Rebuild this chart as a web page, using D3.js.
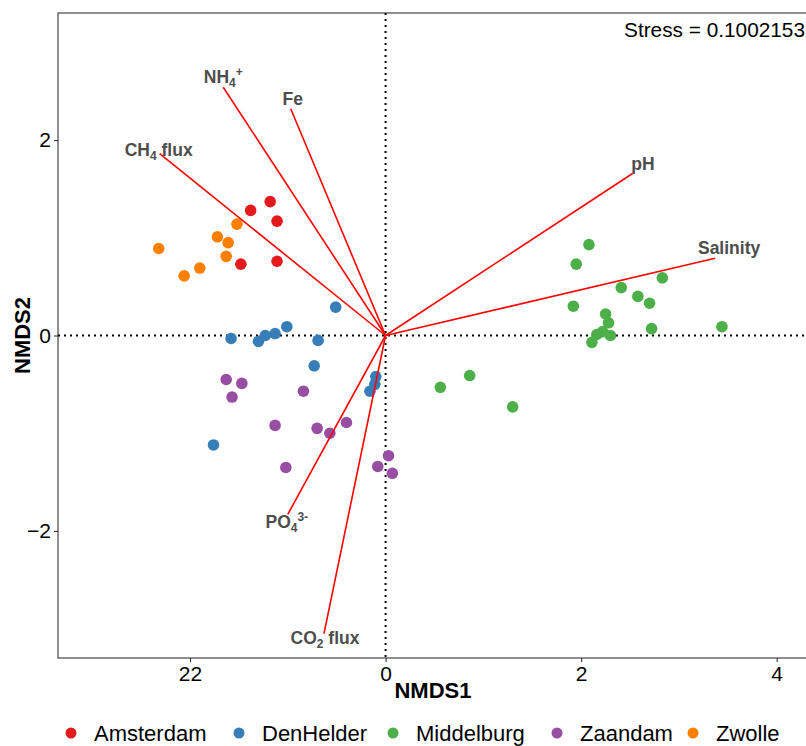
<!DOCTYPE html>
<html>
<head>
<meta charset="utf-8">
<script src="https://cdn.jsdelivr.net/npm/d3@7"></script>
<style>
  body { margin: 0; background: #fff; }
  text { font-family: "Liberation Sans", Arial, sans-serif; }
</style>
</head>
<body>
<svg id="chart" width="806" height="746"></svg>
<script>
// sites and their colours
const sites = ["Amsterdam", "DenHelder", "Middelburg", "Zaandam", "Zwolle"];
const siteColors = ["#E41A1C", "#377EB8", "#4DAF4A", "#984EA3", "#FF7F00"];

// NMDS scores per site
const amsterdamX = [-1.18, -1.38, -1.11, -1.48, -1.11];
const amsterdamY = [1.37, 1.28, 1.17, 0.73, 0.76];
const denhelderX = [-0.51, -1.01, -1.13, -1.23, -1.30, -1.58, -0.69, -0.73, -0.10, -0.11, -0.16, -1.76];
const denhelderY = [0.29, 0.09, 0.02, 0.00, -0.06, -0.03, -0.05, -0.31, -0.42, -0.50, -0.57, -1.12];
const middelburgX = [2.08, 1.95, 2.83, 2.41, 2.58, 2.70, 1.92, 2.25, 2.28, 2.72, 3.44, 2.22, 2.16, 2.30, 2.11, 0.86, 0.56, 1.30];
const middelburgY = [0.93, 0.73, 0.59, 0.49, 0.40, 0.33, 0.30, 0.22, 0.13, 0.07, 0.09, 0.04, 0.01, 0.00, -0.07, -0.41, -0.53, -0.73];
const zaandamX = [-1.63, -1.47, -1.57, -0.84, -1.13, -0.70, -0.57, -0.40, -1.02, 0.03, -0.08, 0.07];
const zaandamY = [-0.45, -0.49, -0.63, -0.57, -0.92, -0.95, -1.00, -0.89, -1.35, -1.23, -1.34, -1.41];
const zwolleX = [-1.52, -1.72, -1.61, -2.32, -1.63, -1.90, -2.06];
const zwolleY = [1.14, 1.01, 0.95, 0.89, 0.81, 0.69, 0.61];

// fitted environmental vectors
const vecNames = ["NH4+", "Fe", "CH4 flux", "pH", "Salinity", "PO43-", "CO2 flux"];
const vecX = [-1.66, -0.97, -2.31, 2.53, 3.37, -1.00, -0.63];
const vecY = [2.54, 2.32, 1.86, 1.66, 0.79, -1.83, -3.05];

const xTicks = [-2, 0, 2, 4];
const xTickLabels = ["22", "0", "2", "4"];
const yTicks = [-2, 0, 2];
const yTickLabels = ["\u22122", "0", "2"];
const stressLabel = "Stress = 0.1002153";

// label pieces: [text, kind] where kind is n (normal), sub or sup
const vecLabelParts = {
  "NH4+": [["NH", "n"], ["4", "sub"], ["+", "sup"]],
  "Fe": [["Fe", "n"]],
  "CH4 flux": [["CH", "n"], ["4", "sub"], [" flux", "n"]],
  "pH": [["pH", "n"]],
  "Salinity": [["Salinity", "n"]],
  "PO43-": [["PO", "n"], ["4", "sub"], ["3-", "sup"]],
  "CO2 flux": [["CO", "n"], ["2", "sub"], [" flux", "n"]]
};
// label nudge in pixels
const labelNudge = {
  "NH4+": [0, -10], "Fe": [2, -10], "CH4 flux": [-1, -4], "pH": [10, -9],
  "Salinity": [14, -10], "PO43-": [-1, 8], "CO2 flux": [1, 4]
};

const groupsX = [amsterdamX, denhelderX, middelburgX, zaandamX, zwolleX];
const groupsY = [amsterdamY, denhelderY, middelburgY, zaandamY, zwolleY];

const points = [];
sites.forEach((s, i) => {
  groupsX[i].forEach((x, j) => points.push({ site: s, x: x, y: groupsY[i][j] }));
});
const vectors = vecNames.map((n, i) => ({ name: n, x: vecX[i], y: vecY[i] }));

const margin = { left: 58, top: 13, right: 808, bottom: 658 };
const svg = d3.select("#chart");

const x = d3.scaleLinear().domain([-3.35, 4.32]).range([margin.left, margin.right]);
const y = d3.scaleLinear().domain([-3.30, 3.30]).range([margin.bottom, margin.top]);
const color = d3.scaleOrdinal().domain(sites).range(siteColors);

// panel border
svg.append("rect")
  .attr("x", margin.left).attr("y", margin.top)
  .attr("width", margin.right - margin.left)
  .attr("height", margin.bottom - margin.top)
  .attr("fill", "none").attr("stroke", "#333").attr("stroke-width", 1.1);

// axes
const xAxis = svg.append("g")
  .attr("transform", `translate(0,${margin.bottom})`)
  .call(d3.axisBottom(x).tickValues(xTicks).tickSize(4).tickPadding(4)
    .tickFormat((d, i) => xTickLabels[i]));
const yAxis = svg.append("g")
  .attr("transform", `translate(${margin.left},0)`)
  .call(d3.axisLeft(y).tickValues(yTicks).tickSize(4).tickPadding(3)
    .tickFormat((d, i) => yTickLabels[i]));
[xAxis, yAxis].forEach(a => {
  a.select(".domain").remove();
  a.selectAll(".tick line").attr("stroke", "#333").attr("stroke-width", 1.1);
  a.selectAll(".tick text").attr("fill", "#000")
    .style("font-size", "21px").style("font-family", "'Liberation Sans', Arial, sans-serif");
});

// zero reference lines
svg.append("line")
  .attr("x1", x(0)).attr("x2", x(0)).attr("y1", margin.top).attr("y2", margin.bottom)
  .attr("stroke", "#000").attr("stroke-width", 2).attr("stroke-dasharray", "2,4");
svg.append("line")
  .attr("x1", margin.left).attr("x2", margin.right).attr("y1", y(0)).attr("y2", y(0))
  .attr("stroke", "#000").attr("stroke-width", 2).attr("stroke-dasharray", "2,4");

// points
svg.append("g").selectAll("circle")
  .data(points)
  .enter().append("circle")
  .attr("cx", d => x(d.x))
  .attr("cy", d => y(d.y))
  .attr("r", 5.8)
  .attr("fill", d => color(d.site));

// vectors
svg.append("g").selectAll("line")
  .data(vectors)
  .enter().append("line")
  .attr("x1", x(0)).attr("y1", y(0))
  .attr("x2", d => x(d.x)).attr("y2", d => y(d.y))
  .attr("stroke", "#FF0000").attr("stroke-width", 1.6);

const labels = svg.append("g").selectAll("text")
  .data(vectors)
  .enter().append("text")
  .attr("x", d => x(d.x) + labelNudge[d.name][0])
  .attr("y", d => y(d.y) + labelNudge[d.name][1] + 6)
  .attr("text-anchor", "middle")
  .attr("fill", "#4D4D4D")
  .style("font-size", "17.5px")
  .style("font-weight", "bold");
labels.each(function(d) {
  const t = d3.select(this);
  let shift = 0;
  vecLabelParts[d.name].forEach(p => {
    const target = p[1] === "sub" ? 4 : p[1] === "sup" ? -7 : 0;
    const ts = t.append("tspan").text(p[0]).attr("dy", target - shift);
    if (p[1] !== "n") ts.style("font-size", "12px");
    shift = target;
  });
});

// stress annotation
svg.append("text")
  .attr("x", 805).attr("y", 37)
  .attr("text-anchor", "end")
  .style("font-size", "20.8px")
  .text(stressLabel);

// axis titles
svg.append("text")
  .attr("x", (margin.left + margin.right) / 2).attr("y", 698)
  .attr("text-anchor", "middle")
  .style("font-size", "22px").style("font-weight", "bold")
  .text("NMDS1");
svg.append("text")
  .attr("transform", `translate(30,${(margin.top + margin.bottom) / 2}) rotate(-90)`)
  .attr("text-anchor", "middle")
  .style("font-size", "22px").style("font-weight", "bold")
  .text("NMDS2");

// legend
const legendDotX = [71, 239, 393, 557, 693];
const legend = svg.append("g").selectAll("g")
  .data(sites)
  .enter().append("g")
  .attr("transform", (d, i) => `translate(${legendDotX[i]},733)`);
legend.append("circle").attr("r", 5.5).attr("fill", d => color(d));
legend.append("text")
  .attr("x", 23).attr("y", 8)
  .style("font-size", "22px")
  .text(d => d);
</script>
</body>
</html>
